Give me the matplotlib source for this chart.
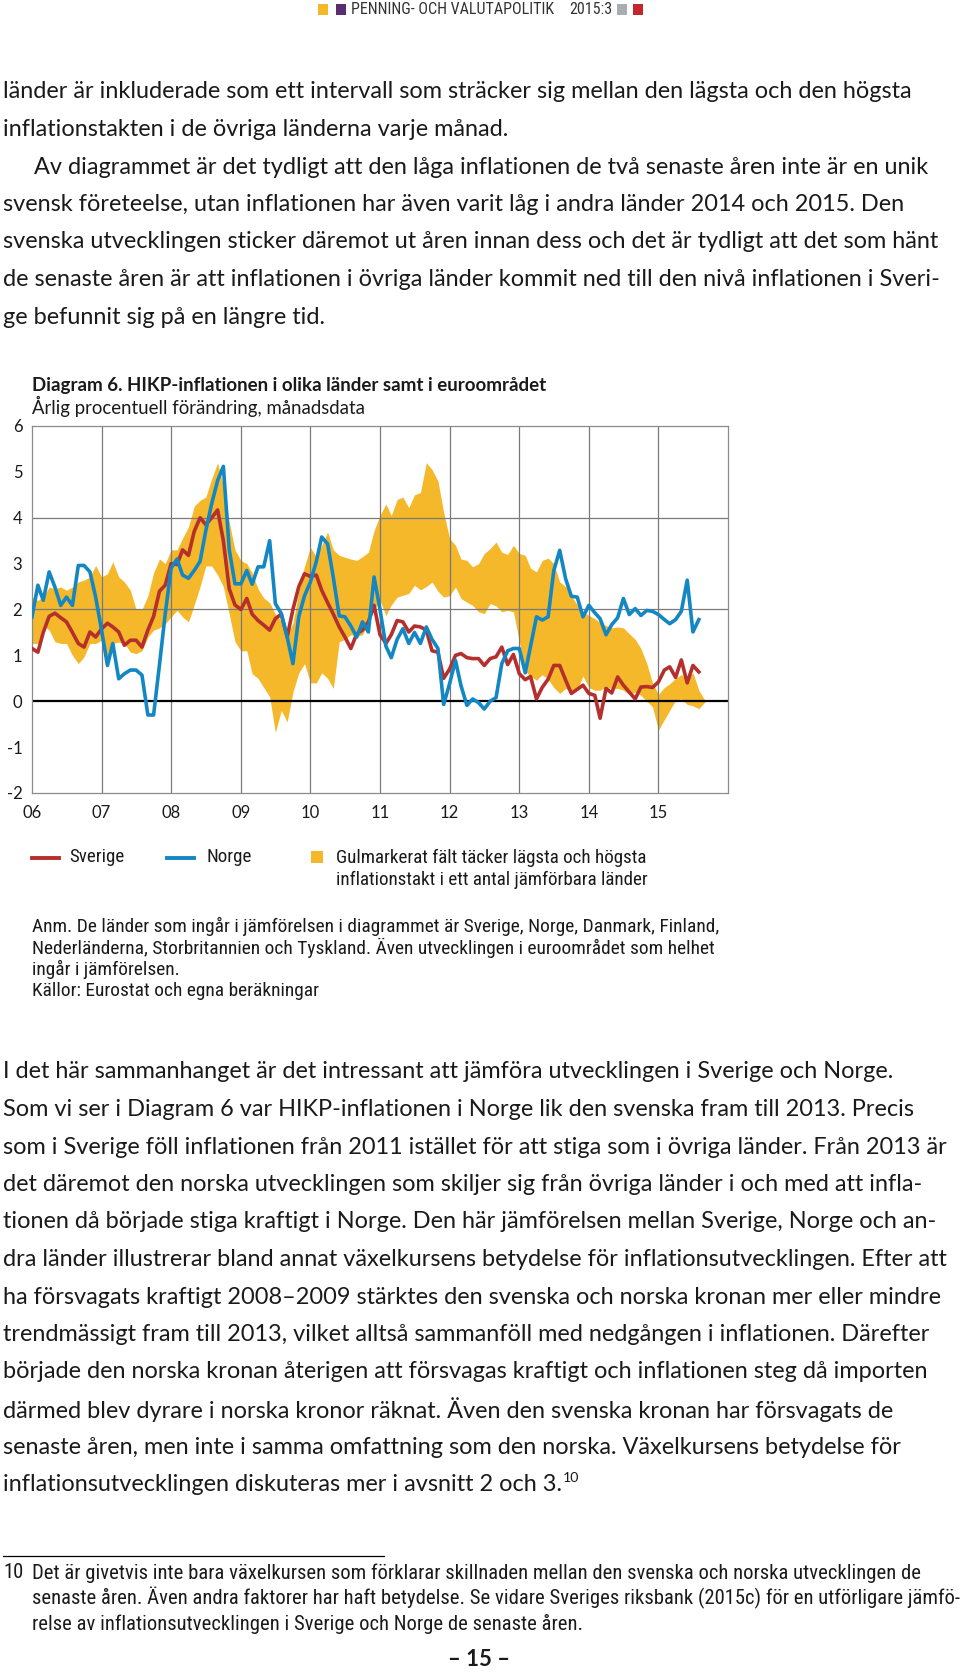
import matplotlib
matplotlib.use("Agg")
import matplotlib.pyplot as plt
import pandas as pd
from matplotlib.lines import Line2D
from matplotlib.patches import Rectangle

# HIKP-inflation, årlig procentuell förändring, månadsdata från jan 2006
sverige = [1.15, 1.07, 1.5, 1.85, 1.92, 1.82, 1.73, 1.5, 1.26, 1.18, 1.51, 1.4,
           1.58, 1.7, 1.62, 1.51, 1.22, 1.33, 1.33, 1.18, 1.55, 1.85, 2.4, 2.53,
           3.0, 2.98, 3.3, 3.18, 3.7, 4.0, 3.85, 4.0, 4.17, 3.5, 2.45, 2.1,
           2.0, 2.24, 1.9, 1.76, 1.66, 1.55, 1.8, 1.9, 1.4, 2.0, 2.5, 2.78,
           2.72, 2.75, 2.42, 2.15, 1.9, 1.62, 1.4, 1.15, 1.47, 1.55, 1.73, 2.09,
           1.45, 1.26, 1.45, 1.76, 1.73, 1.51, 1.64, 1.62, 1.55, 1.1, 1.07, 0.5,
           0.7, 1.0, 1.04, 0.95, 0.93, 0.93, 0.78, 0.93, 0.97, 1.18, 0.8, 1.02,
           0.6, 0.47, 0.54, 0.05, 0.3, 0.48, 0.78, 0.78, 0.46, 0.17, 0.26, 0.35,
           0.17, 0.13, -0.37, 0.28, 0.18, 0.53, 0.35, 0.2, 0.05, 0.31, 0.32, 0.3,
           0.42, 0.68, 0.75, 0.52, 0.9, 0.4, 0.78, 0.64]
norge = [1.84, 2.53, 2.2, 2.82, 2.49, 2.09, 2.27, 2.09, 2.96, 2.96, 2.82, 2.27,
         1.55, 0.78, 1.26, 0.49, 0.6, 0.68, 0.68, 0.57, -0.3, -0.3, 0.8, 1.9,
         2.9, 3.1, 2.75, 2.68, 2.85, 3.05, 3.72, 4.31, 4.81, 5.12, 3.3, 2.56,
         2.56, 2.85, 2.55, 2.93, 2.93, 3.5, 2.13, 1.91, 1.4, 0.82, 1.85, 2.3,
         2.6, 3.05, 3.58, 3.43, 2.7, 1.86, 1.84, 1.64, 1.4, 1.73, 1.51, 2.71,
         2.0, 1.2, 0.95, 1.35, 1.58, 1.26, 1.5, 1.26, 1.62, 1.35, 1.15, -0.07,
         0.38, 0.89, 0.34, -0.09, 0.05, -0.03, -0.17, 0.0, 0.08, 0.82, 1.1, 1.15,
         1.15, 0.62, 1.2, 1.84, 1.77, 1.84, 2.85, 3.29, 2.67, 2.29, 2.27, 1.84,
         2.09, 1.93, 1.8, 1.45, 1.67, 1.82, 2.24, 1.89, 2.02, 1.87, 1.98, 1.96,
         1.89, 1.78, 1.69, 1.78, 1.96, 2.64, 1.51, 1.78]
# lägsta och högsta inflationstakt bland övriga länder
band_lo = [1.26, 1.26, 1.65, 1.55, 1.3, 1.26, 1.26, 1.0, 0.82, 0.97, 1.26, 1.26,
           1.33, 0.89, 1.26, 1.29, 1.26, 1.07, 1.04, 1.1, 1.4, 1.55, 1.6, 1.69,
           1.84, 1.98, 1.84, 1.73, 2.1, 2.5, 2.95, 2.95, 2.75, 2.5, 1.9, 1.3,
           1.1, 1.1, 0.6, 0.5, 0.3, 0.1, -0.68, -0.2, -0.45, 0.2, 0.62, 0.82,
           0.4, 0.4, 0.62, 0.5, 0.28, 1.3, 1.35, 1.45, 1.42, 1.45, 1.7, 2.0,
           2.2, 1.87, 2.1, 2.27, 2.31, 2.35, 2.53, 2.43, 2.5, 2.6, 2.4, 2.27,
           2.3, 2.49, 2.24, 2.16, 2.09, 1.95, 1.91, 2.13, 2.08, 1.95, 1.98, 1.95,
           1.3, 0.65, 0.55, 0.46, 0.58, 0.48, 0.3, 0.17, 0.28, 0.2, 0.26, 0.55,
           0.3, 0.24, 0.24, 0.31, 0.28, 0.28, 0.24, 0.15, 0.2, 0.13, 0.0, -0.12,
           -0.63, -0.4, -0.2, 0.02, 0.05, -0.07, -0.1, -0.16, -0.02]
band_hi = [2.27, 2.2, 2.27, 2.49, 2.45, 2.49, 2.42, 2.49, 2.6, 2.64, 2.71, 2.96,
           2.71, 2.78, 3.04, 2.71, 2.6, 2.42, 2.0, 2.0, 2.3, 2.8, 3.1, 3.0,
           3.3, 3.3, 3.55, 3.8, 4.25, 4.38, 4.45, 4.85, 5.2, 4.7, 3.9, 3.3,
           3.07, 3.0, 2.8, 2.45, 2.25, 2.15, 1.9, 1.75, 1.45, 1.7, 2.4, 2.95,
           3.35, 3.15, 3.4, 3.69, 3.3, 3.18, 3.14, 3.1, 3.07, 3.15, 3.25, 3.72,
           4.05, 4.3, 4.05, 4.4, 4.45, 4.22, 4.5, 4.55, 5.2, 5.05, 4.8, 4.12,
           3.55, 3.4, 3.1, 3.07, 2.93, 3.0, 3.22, 3.33, 3.47, 3.25, 3.2, 3.4,
           3.22, 3.18, 2.9, 2.82, 3.07, 3.12, 3.0, 2.6, 2.5, 2.3, 2.1, 1.95,
           1.87, 1.8, 1.72, 1.65, 1.6, 1.62, 1.6, 1.47, 1.35, 1.15, 0.82, 0.4,
           0.15, 0.3, 0.38, 0.5, 0.58, 0.5, 0.62, 0.24, 0.02]
year_labels = ['06', '07', '08', '09', '10', '11', '12', '13', '14', '15']
y_ticks = [-2, -1, 0, 1, 2, 3, 4, 5, 6]

header = "PENNING- OCH VALUTAPOLITIK"
issue = "2015:3"
para1 = [
    "länder är inkluderade som ett intervall som sträcker sig mellan den lägsta och den högsta",
    "inflationstakten i de övriga länderna varje månad.",
    "Av diagrammet är det tydligt att den låga inflationen de två senaste åren inte är en unik",
    "svensk företeelse, utan inflationen har även varit låg i andra länder 2014 och 2015. Den",
    "svenska utvecklingen sticker däremot ut åren innan dess och det är tydligt att det som hänt",
    "de senaste åren är att inflationen i övriga länder kommit ned till den nivå inflationen i Sveri-",
    "ge befunnit sig på en längre tid.",
]
para2 = [
    "I det här sammanhanget är det intressant att jämföra utvecklingen i Sverige och Norge.",
    "Som vi ser i Diagram 6 var HIKP-inflationen i Norge lik den svenska fram till 2013. Precis",
    "som i Sverige föll inflationen från 2011 istället för att stiga som i övriga länder. Från 2013 är",
    "det däremot den norska utvecklingen som skiljer sig från övriga länder i och med att infla-",
    "tionen då började stiga kraftigt i Norge. Den här jämförelsen mellan Sverige, Norge och an-",
    "dra länder illustrerar bland annat växelkursens betydelse för inflationsutvecklingen. Efter att",
    "ha försvagats kraftigt 2008–2009 stärktes den svenska och norska kronan mer eller mindre",
    "trendmässigt fram till 2013, vilket alltså sammanföll med nedgången i inflationen. Därefter",
    "började den norska kronan återigen att försvagas kraftigt och inflationen steg då importen",
    "därmed blev dyrare i norska kronor räknat. Även den svenska kronan har försvagats de",
    "senaste åren, men inte i samma omfattning som den norska. Växelkursens betydelse för",
    "inflationsutvecklingen diskuteras mer i avsnitt 2 och 3.",
]
title = "Diagram 6. HIKP-inflationen i olika länder samt i euroområdet"
subtitle = "Årlig procentuell förändring, månadsdata"
legend_band = ["Gulmarkerat fält täcker lägsta och högsta",
               "inflationstakt i ett antal jämförbara länder"]
notes = [
    "Anm. De länder som ingår i jämförelsen i diagrammet är Sverige, Norge, Danmark, Finland,",
    "Nederländerna, Storbritannien och Tyskland. Även utvecklingen i euroområdet som helhet",
    "ingår i jämförelsen.",
    "Källor: Eurostat och egna beräkningar",
]
footnote = [
    "Det är givetvis inte bara växelkursen som förklarar skillnaden mellan den svenska och norska utvecklingen de",
    "senaste åren. Även andra faktorer har haft betydelse. Se vidare Sveriges riksbank (2015c) för en utförligare jämfö-",
    "relse av inflationsutvecklingen i Sverige och Norge de senaste åren.",
]

YELLOW = '#f4b82a'
RED = '#b52f2c'
BLUE = '#1387c4'
TXT = '#1a1a1a'
GRID = '#7a7a7a'
BODY = ['Lato', 'DejaVu Sans']
NARROW = ['Roboto Condensed', 'Liberation Sans Narrow', 'DejaVu Sans Condensed', 'Lato', 'DejaVu Sans']

W, H = 960, 1672
fig = plt.figure(figsize=(W / 100, H / 100), dpi=100)
page = fig.add_axes([0, 0, 1, 1])
page.set_xlim(0, W)
page.set_ylim(H, 0)
page.axis('off')
renderer = fig.canvas.get_renderer()


def measure(s, size, family, weight='normal'):
    t = page.text(0, 0, s, fontsize=size, family=family, fontweight=weight)
    w = t.get_window_extent(renderer).width
    t.remove()
    return w


def fit(samples, family, weight='normal', base=12.0):
    # font size so that the sample lines get the widths seen in the reference
    got = sum(measure(s, base, family, weight) for s, _ in samples)
    return base * sum(w for _, w in samples) / got


def lines(x, y0, step, rows, size, family, weight='normal', indent=None):
    out = []
    for k, s in enumerate(rows):
        xx = x if indent is None or k not in indent else indent[k]
        out.append(page.text(xx, y0 + k * step, s, fontsize=size, family=family,
                             fontweight=weight, color=TXT, va='center', ha='left'))
    return out


# header
for x0, c in [(318, YELLOW), (336, '#5a2d6e'), (617, '#a9acb1'), (633, '#c1272d')]:
    page.add_patch(Rectangle((x0, 4), 10, 10.5, color=c, lw=0))
hsize = fit([(header, 203)], NARROW)
page.text(351, 9.5, header, fontsize=hsize, family=NARROW, color='#333333', va='center')
page.text(569, 9.5, issue, fontsize=hsize, family=NARROW, color='#333333', va='center')

# body text: fitted to the reference widths, but no line may run past the page
bsize = fit([(para1[0], 927), (para1[3], 927), (para1[4], 949), (para2[2], 927),
             (para2[5], 954), (para2[6], 954)], BODY)
widest = max(measure(s, bsize, BODY) for s in para1 + para2)
bsize = min(bsize, bsize * 945 / widest)
lines(3, 92, 37.5, para1, bsize, BODY, indent={2: 34})
last = lines(3, 1072, 37.5, para2, bsize, BODY)[-1]
x_end = last.get_window_extent(renderer).x1
page.text(x_end + 1, 1072 + 11 * 37.5 - 7, "10", fontsize=bsize * 0.6, family=BODY,
          color=TXT, va='center')

# chart title
page.text(32, 385, title, fontsize=fit([(title, 511)], BODY, 'bold'), family=BODY,
          fontweight='bold', color=TXT, va='center')
page.text(32, 406, subtitle, fontsize=fit([(subtitle, 332)], BODY), family=BODY,
          color=TXT, va='center')

# chart
ax = fig.add_axes([32 / W, 1 - 793 / H, (728 - 32) / W, (793 - 426) / H])
dates = pd.date_range('2006-01-01', periods=len(sverige), freq='MS')
band_dates = pd.date_range('2006-01-01', periods=len(band_hi), freq='MS')
years = [pd.Timestamp(f'20{y}-01-01') for y in year_labels]

ax.fill_between(band_dates, band_lo, band_hi, color=YELLOW, lw=0, zorder=1)
for yr in years[1:]:
    ax.axvline(yr, color=GRID, lw=0.9, zorder=1.5)
for v in y_ticks[2::2][1:-1]:
    ax.axhline(v, color=GRID, lw=0.9, zorder=1.5)
ax.axhline(0, color='black', lw=1.6, zorder=2)
ax.plot(dates, sverige, color=RED, lw=2.6, zorder=4)
ax.plot(dates, norge, color=BLUE, lw=2.6, zorder=4)

ax.set_xlim(pd.Timestamp('2006-01-01'), pd.Timestamp('2016-01-01'))
ax.set_ylim(-2, 6)
ax.set_xticks(years)
ax.set_xticklabels(year_labels)
ax.set_yticks(y_ticks)
ax.set_yticklabels([str(v) for v in y_ticks])
ax.tick_params(length=0, labelsize=12, colors=TXT)
ax.tick_params(axis='y', pad=7)
ax.tick_params(axis='x', pad=8.5)
for lab in ax.get_xticklabels() + ax.get_yticklabels():
    lab.set_family(BODY)
for sp in ax.spines.values():
    sp.set_color('#8c8c8c')
    sp.set_linewidth(0.9)

# legend
lsize = fit([(legend_band[0], 309), (legend_band[1], 314)], NARROW)
page.add_line(Line2D([32, 59], [857.5, 857.5], color=RED, lw=2.8))
page.text(69, 857.5, "Sverige", fontsize=lsize, family=NARROW, color=TXT, va='center')
page.add_line(Line2D([167, 194], [857.5, 857.5], color=BLUE, lw=2.8))
page.text(206, 857.5, "Norge", fontsize=lsize, family=NARROW, color=TXT, va='center')
page.add_patch(Rectangle((311, 851), 12, 12, color=YELLOW, lw=0))
lines(336, 857.5, 22.5, legend_band, lsize, NARROW)

# notes under the chart
nsize = fit([(notes[0], 686), (notes[1], 678)], NARROW)
lines(32, 926, 21.6, notes, nsize, NARROW)

# footnote
page.add_line(Line2D([3, 384], [1556, 1556], color='black', lw=0.9))
fsize = fit([(footnote[0], 883), (footnote[1], 924)], NARROW)
page.text(3, 1573, "10", fontsize=fsize, family=NARROW, color=TXT, va='center')
lines(32, 1573, 25.3, footnote, fsize, NARROW)

# page number
page.text(479, 1660, "– 15 –", fontsize=fit([("– 15 –", 62)], BODY, 'bold'),
          family=BODY, fontweight='bold', color=TXT, va='center', ha='center')

fig.savefig('out.png', dpi=100)
